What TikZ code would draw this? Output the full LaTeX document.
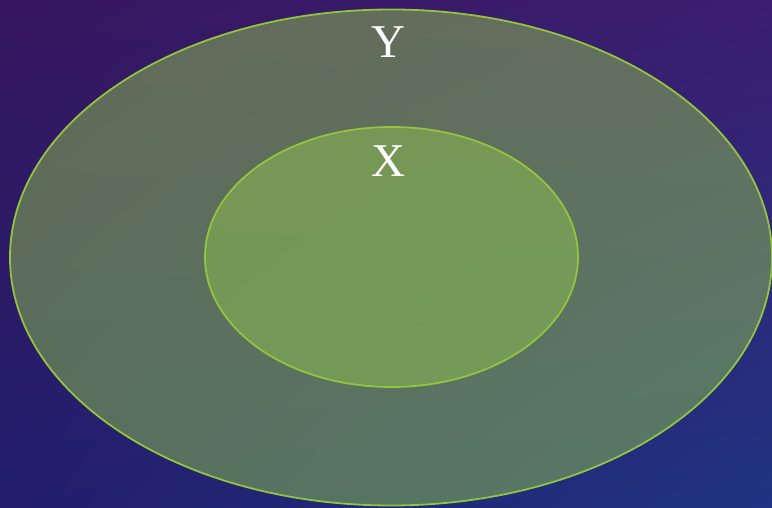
\documentclass[tikz,border=0pt]{standalone}
\usepackage{fontspec}
\setmainfont{Liberation Serif}
\usetikzlibrary{shadings}
\definecolor{bgUL}{RGB}{54,22,96}
\definecolor{bgUR}{RGB}{60,30,112}
\definecolor{bgLL}{RGB}{34,30,108}
\definecolor{bgLR}{RGB}{31,52,130}
\definecolor{setfill}{RGB}{142,192,80}
\definecolor{setline}{RGB}{146,196,62}
\tikzset{
  setshape/.style={fill=setfill, fill opacity=0.5, draw=setline, draw opacity=1, line width=1.8pt},
  setlabel/.style={text=white, font=\fontsize{47}{47}\selectfont, inner sep=0pt}
}
\begin{document}
\begin{tikzpicture}[x=1pt,y=1pt]
\useasboundingbox (0,0) rectangle (772,508);
\shade[upper left=bgUL, upper right=bgUR, lower left=bgLL, lower right=bgLR] (0,0) rectangle (772,508);
\draw[setshape] (391,250.5) ellipse [x radius=381, y radius=248];
\draw[setshape] (391.5,251) ellipse [x radius=186.5, y radius=130];
\node[setlabel] (Y) at (388,465.5) {Y};
\node[setlabel] (X) at (388,347) {X};
\end{tikzpicture}
\end{document}
